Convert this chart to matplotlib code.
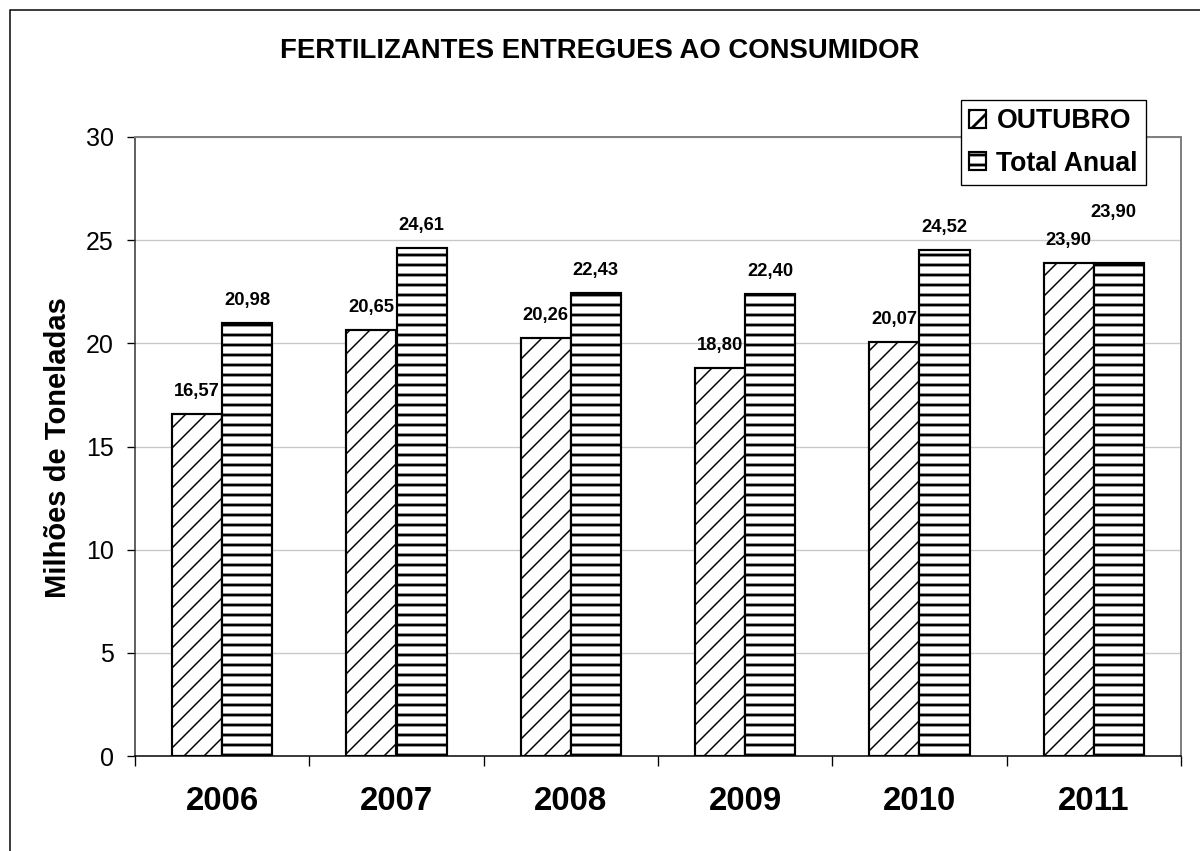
import numpy as np
import matplotlib
matplotlib.use('Agg')
from matplotlib import pyplot as plt
from matplotlib.patches import Rectangle

# Data
anos = ['2006', '2007', '2008', '2009', '2010', '2011']
outubro = [16.57, 20.65, 20.26, 18.80, 20.07, 23.90]
total_anual = [20.98, 24.61, 22.43, 22.40, 24.52, 23.90]

plt.rcParams['font.family'] = ['Liberation Sans', 'DejaVu Sans']

W, H, DPI = 1200, 851, 120
fig = plt.figure(figsize=(W / DPI, H / DPI), dpi=DPI)
ax = fig.add_axes([135 / W, 1 - 756 / H, (1181 - 135) / W, (756 - 137) / H])

x = np.arange(len(anos))
bw = 50 / 174.33

plt.rcParams['hatch.linewidth'] = 0.9
b1 = ax.bar(x - bw / 2, outubro, bw, color='white', edgecolor='black',
            linewidth=1.3, hatch='//', label='OUTUBRO', zorder=3)
plt.rcParams['hatch.linewidth'] = 1.7
b2 = ax.bar(x + bw / 2, total_anual, bw, color='white', edgecolor='black',
            linewidth=1.3, hatch='--', label='Total Anual', zorder=3)
for p in b1.patches:
    if hasattr(p, 'set_hatch_linewidth'):
        p.set_hatch_linewidth(0.9)
for p in b2.patches:
    if hasattr(p, 'set_hatch_linewidth'):
        p.set_hatch_linewidth(1.7)

# Value labels
for i in range(len(anos)):
    ax.annotate(f'{outubro[i]:.2f}'.replace('.', ','), (x[i] - bw / 2, outubro[i]),
                xytext=(0, 13.5), textcoords='offset points', ha='center', va='center',
                fontsize=11, fontweight='bold')
    off = 30.5 if i == len(anos) - 1 else 13.5
    dx = -3 if i == len(anos) - 1 else 0
    ax.annotate(f'{total_anual[i]:.2f}'.replace('.', ','), (x[i] + bw / 2, total_anual[i]),
                xytext=(dx, off), textcoords='offset points', ha='center', va='center',
                fontsize=11, fontweight='bold')

ax.set_xlim(-0.5, len(anos) - 0.5)
ax.set_ylim(0, 30)
ax.set_yticks(np.arange(0, 31, 5))
ax.tick_params(axis='y', labelsize=15, length=4.8, width=0.8, pad=8, direction='out')
ax.set_xticks(np.arange(len(anos) + 1) - 0.5)
ax.set_xticklabels([])
ax.tick_params(axis='x', which='major', length=6, width=0.8, direction='out')
ax.set_xticks(x, minor=True)
ax.set_xticklabels(anos, minor=True, fontsize=19.8, fontweight='bold')
ax.tick_params(axis='x', which='minor', length=0, pad=18)

ax.yaxis.grid(True, color='#c8c8c8', linewidth=0.8, zorder=0)
ax.set_axisbelow(True)
for s in ['top', 'right']:
    ax.spines[s].set_color('#808080')
    ax.spines[s].set_linewidth(1.2)
ax.spines['left'].set_color('#303030')
ax.spines['bottom'].set_color('black')
ax.spines['left'].set_linewidth(0.9)
ax.spines['bottom'].set_linewidth(0.9)

leg = ax.legend(loc='upper right', bbox_to_anchor=(1146 / W, 1 - 100 / H),
                bbox_transform=fig.transFigure,
                prop={'weight': 'bold', 'size': 16}, frameon=True, fancybox=False,
                edgecolor='black', framealpha=1, handlelength=0.65, handleheight=0.65,
                handletextpad=0.4, borderpad=0.3, labelspacing=0.62, borderaxespad=0)
leg.get_frame().set_linewidth(0.8)
leg.set_zorder(5)

fig.text(600 / W, 1 - 51 / H, 'FERTILIZANTES ENTREGUES AO CONSUMIDOR',
         ha='center', va='center', fontsize=16.5, fontweight='bold')
fig.text(58 / W, 1 - 448 / H, 'Milhões de Toneladas', rotation=90,
         ha='center', va='center', fontsize=17.5, fontweight='bold')

fig.add_artist(Rectangle((9.5 / W, -0.1), 1.2, 1.1 - 10 / H, transform=fig.transFigure,
                         fill=False, edgecolor='black', linewidth=0.9))

fig.savefig('out.png', dpi=DPI)
